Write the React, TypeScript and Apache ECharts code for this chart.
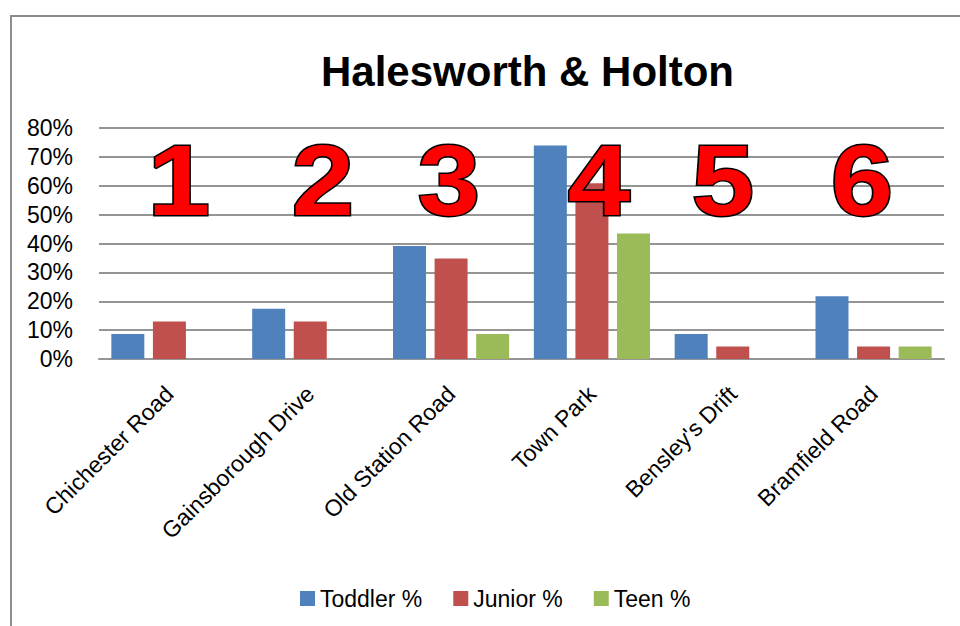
import React, { useEffect, useRef } from "react";
import * as echarts from "echarts";

const categories = [
  "Chichester Road",
  "Gainsborough Drive",
  "Old Station Road",
  "Town Park",
  "Bensley's Drift",
  "Bramfield Road",
];
const toddler = [8.7, 17.4, 39.1, 73.9, 8.7, 21.7];
const junior = [13.0, 13.0, 34.8, 60.9, 4.3, 4.3];
const teen = [0, 0, 8.7, 43.5, 0, 4.3];
const seriesNames = ["Toddler %", "Junior %", "Teen %"];
const markerLabels = ["1", "2", "3", "4", "5", "6"];
const markerX = [179, 323, 449, 599, 723, 862];

export default function App() {
  const ref = useRef<HTMLDivElement>(null);
  useEffect(() => {
    document.body.style.margin = "0";
    const chart = echarts.init(ref.current!, null, { renderer: "svg" });
    const font = "Liberation Sans";
    chart.setOption({
      animation: false,
      backgroundColor: "#ffffff",
      textStyle: { fontFamily: font },
      title: {
        text: "Halesworth & Holton",
        left: 316,
        top: 45,
        textStyle: { fontFamily: font, fontSize: 42, fontWeight: "bold", color: "#000" },
      },
      legend: {
        data: seriesNames,
        left: 295,
        top: 582,
        itemWidth: 15,
        itemHeight: 15,
        itemGap: 31,
        icon: "rect",
        textStyle: { fontFamily: font, fontSize: 23, color: "#000" },
      },
      grid: { left: 99, right: 16, top: 128, bottom: 267, containLabel: false },
      xAxis: {
        type: "category",
        data: categories,
        axisLine: { show: true, lineStyle: { color: "#959595", width: 2 } },
        axisTick: { show: false },
        axisLabel: {
          rotate: 45,
          interval: 0,
          margin: 31,
          fontSize: 23,
          fontFamily: font,
          color: "#000",
        },
      },
      yAxis: {
        type: "value",
        min: 0,
        max: 80,
        interval: 10,
        axisLine: { show: false },
        axisTick: { show: false },
        axisLabel: {
          formatter: "{value}%",
          margin: 26,
          fontSize: 23,
          fontFamily: font,
          color: "#000",
        },
        splitLine: { lineStyle: { color: "#959595", width: 2 } },
      },
      series: [
        { name: seriesNames[0], type: "bar", data: toddler, barWidth: 33, barGap: "26%", itemStyle: { color: "#4f81bd" } },
        { name: seriesNames[1], type: "bar", data: junior, barWidth: 33, barGap: "26%", itemStyle: { color: "#c0504d" } },
        { name: seriesNames[2], type: "bar", data: teen, barWidth: 33, barGap: "26%", itemStyle: { color: "#9bbb59" } },
      ],
      graphic: [
        {
          type: "rect",
          silent: true,
          shape: { x: 11, y: 16, width: 1000, height: 700 },
          style: { fill: "none", stroke: "#8c8c8c", lineWidth: 2 },
          z: 1,
        },
        ...markerLabels.map((t, i) => ({
          type: "text",
          x: markerX[i],
          y: 180,
          scaleX: 1.12,
          z: 100,
          style: {
            text: t,
            fontFamily: font,
            fontSize: 100,
            fontWeight: "bold",
            fill: "#ff0000",
            stroke: "#000000",
            lineWidth: 3,
            textAlign: "center",
            textVerticalAlign: "middle",
          },
        })),
      ],
    });
    return () => chart.dispose();
  }, []);
  return <div ref={ref} style={{ width: 960, height: 626 }} />;
}
